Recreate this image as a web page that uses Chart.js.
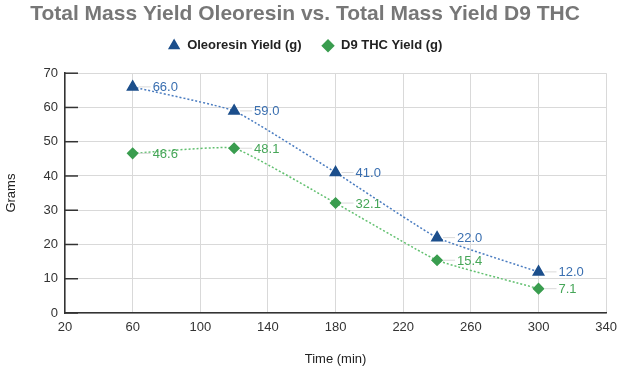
<!DOCTYPE html>
<html lang="en">
  <head>
    <meta charset="UTF-8" />
    <title>Total Mass Yield</title>
    <style>
      html, body { margin: 0; padding: 0; background: #fff; }
      #wrap { width: 624px; height: 371px; position: relative; }
    </style>
  </head>
  <body>
    <div id="wrap"><canvas id="chart"></canvas></div>

    <script src="https://cdn.jsdelivr.net/npm/chart.js@4.4.1/dist/chart.umd.min.js"></script>
    <script>
      const times = [60, 120, 180, 240, 300];
      const oleoresin = [66.0, 59.0, 41.0, 22.0, 12.0];
      const d9thc = [46.6, 48.1, 32.1, 15.4, 7.1];
      const xTicks = [20, 60, 100, 140, 180, 220, 260, 300, 340];
      const yTicks = [0, 10, 20, 30, 40, 50, 60, 70];

      Chart.defaults.font.family = "'Liberation Sans', Arial, sans-serif";
      Chart.defaults.color = "#333";

      // short dark ticks drawn inside the plot on the y axis
      const innerTicks = {
        id: "innerTicks",
        afterDraw(chart) {
          const { ctx, chartArea, scales } = chart;
          ctx.save();
          ctx.strokeStyle = "#333";
          ctx.lineWidth = 1.5;
          yTicks.forEach((v) => {
            const y = scales.y.getPixelForValue(v);
            ctx.beginPath();
            ctx.moveTo(chartArea.left, y);
            ctx.lineTo(chartArea.left + 13, y);
            ctx.stroke();
          });
          ctx.restore();
        },
      };

      // value labels with a small leader line
      const valueLabels = {
        id: "valueLabels",
        afterDatasetsDraw(chart) {
          const { ctx } = chart;
          ctx.save();
          ctx.font = "13px 'Liberation Sans', Arial, sans-serif";
          ctx.textBaseline = "middle";
          chart.data.datasets.forEach((ds, i) => {
            const meta = chart.getDatasetMeta(i);
            meta.data.forEach((pt, j) => {
              ctx.strokeStyle = "#dadada";
              ctx.lineWidth = 1;
              ctx.beginPath();
              ctx.moveTo(pt.x + 6, pt.y);
              ctx.lineTo(pt.x + 18, pt.y);
              ctx.stroke();
              ctx.fillStyle = ds.labelColor;
              ctx.fillText(ds.data[j].toFixed(1), pt.x + 20, pt.y + 1);
            });
          });
          ctx.restore();
        },
      };

      new Chart(document.getElementById("chart"), {
        type: "line",
        data: {
          labels: times,
          datasets: [
            {
              label: "Oleoresin Yield (g)",
              data: oleoresin,
              borderColor: "#4a7cc0",
              backgroundColor: "#1c4f8c",
              pointBackgroundColor: "#1c4f8c",
              pointBorderColor: "#1c4f8c",
              pointStyle: "triangle",
              pointRadius: 6,
              borderWidth: 1.5,
              borderDash: [2, 2],
              tension: 0.12,
              labelColor: "#3a6fb0",
            },
            {
              label: "D9 THC Yield (g)",
              data: d9thc,
              borderColor: "#62c070",
              backgroundColor: "#3a9d4f",
              pointBackgroundColor: "#3a9d4f",
              pointBorderColor: "#3a9d4f",
              pointStyle: "rectRot",
              pointRadius: 5,
              borderWidth: 1.5,
              borderDash: [2, 2],
              tension: 0.12,
              labelColor: "#46a658",
            },
          ],
        },
        options: {
          responsive: true,
          maintainAspectRatio: false,
          animation: false,
          layout: { padding: { left: 0, right: 14, top: 0, bottom: 0 } },
          plugins: {
            title: {
              display: true,
              text: "Total Mass Yield Oleoresin vs. Total Mass Yield D9 THC",
              color: "#777",
              font: { size: 21, weight: "bold" },
              padding: { top: 2, bottom: -8 },
            },
            legend: {
              labels: {
                usePointStyle: true,
                boxHeight: 8,
                boxWidth: 13,
                padding: 20,
                color: "#222",
                font: { size: 13, weight: "bold" },
              },
            },
            tooltip: { enabled: false },
          },
          scales: {
            x: {
              type: "linear",
              min: 20,
              max: 340,
              afterBuildTicks: (s) => { s.ticks = xTicks.map((v) => ({ value: v })); },
              afterFit: (s) => { s.height = 58; },
              grid: { color: "#d9d9d9", drawTicks: false },
              border: { color: "#333", width: 1.5 },
              ticks: { padding: 7, font: { size: 13 }, color: "#333" },
              title: { display: true, text: "Time (min)", font: { size: 13 }, color: "#222", padding: { top: 12 } },
            },
            // empty spacer between legend and plot
            gap: {
              type: "linear",
              position: "top",
              afterFit: (s) => { s.height = 11; },
              grid: { display: false },
              border: { display: false },
              ticks: { display: false },
            },
            y: {
              min: 0,
              max: 70,
              afterBuildTicks: (s) => { s.ticks = yTicks.map((v) => ({ value: v })); },
              afterFit: (s) => { s.width = 65; },
              grid: { color: "#d9d9d9", drawTicks: false },
              border: { color: "#333", width: 1.5 },
              ticks: { padding: 7, font: { size: 13 }, color: "#333" },
              title: { display: true, text: "Grams", font: { size: 13 }, color: "#222" },
            },
          },
        },
        plugins: [innerTicks, valueLabels],
      });
    </script>
  </body>
</html>
